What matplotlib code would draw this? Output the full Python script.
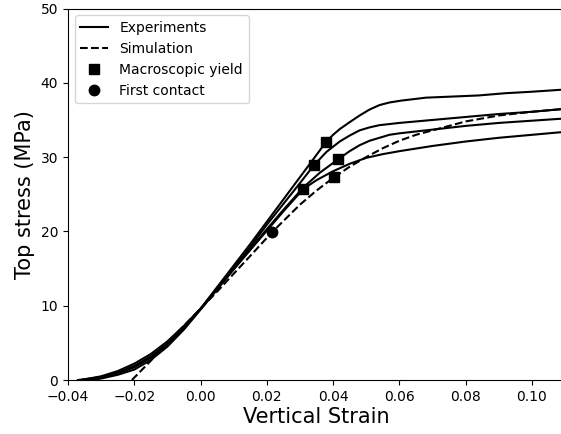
import numpy as np
import matplotlib
matplotlib.use("Agg")
import matplotlib.pyplot as plt

# =====================
# data
# =====================
exp1_x = [-0.037, -0.03, -0.025, -0.02, -0.015, -0.01, -0.005, 0.0, 0.005, 0.01, 0.015, 0.02,
          0.025, 0.03, 0.035, 0.0378, 0.04, 0.0421, 0.045, 0.048, 0.051, 0.054, 0.057, 0.0605,
          0.068, 0.076, 0.084, 0.092, 0.10, 0.11]
exp1_y = [0.0, 0.4, 1.0, 1.9, 3.2, 4.9, 7.1, 9.6, 12.5, 15.4, 18.3, 21.3,
          24.3, 27.3, 30.3, 32.0, 33.0, 33.8, 34.7, 35.6, 36.4, 37.0, 37.35, 37.6,
          38.0, 38.15, 38.3, 38.6, 38.8, 39.1]

exp2_x = [-0.036, -0.03, -0.025, -0.02, -0.015, -0.01, -0.005, 0.0, 0.005, 0.01, 0.015, 0.02,
          0.025, 0.03, 0.0342, 0.038, 0.042, 0.045, 0.048, 0.051, 0.054, 0.06, 0.07,
          0.08, 0.09, 0.10, 0.11]
exp2_y = [0.0, 0.5, 1.2, 2.2, 3.5, 5.2, 7.3, 9.6, 12.3, 15.1, 17.9, 20.9,
          23.7, 26.5, 28.9, 30.7, 32.1, 32.9, 33.6, 34.0, 34.3, 34.6, 35.0,
          35.4, 35.8, 36.1, 36.5]

exp3_x = [-0.034, -0.03, -0.025, -0.02, -0.015, -0.01, -0.005, 0.0, 0.005, 0.01, 0.015, 0.02,
          0.025, 0.031, 0.036, 0.0415, 0.045, 0.048, 0.051, 0.054, 0.057, 0.06, 0.07,
          0.08, 0.09, 0.10, 0.11]
exp3_y = [0.0, 0.3, 0.9, 1.7, 3.0, 4.7, 6.9, 9.5, 12.2, 14.9, 17.6, 20.3,
          22.9, 25.9, 27.9, 29.7, 30.8, 31.6, 32.2, 32.6, 33.0, 33.2, 33.7,
          34.2, 34.6, 34.9, 35.2]

exp4_x = [-0.033, -0.03, -0.025, -0.02, -0.015, -0.01, -0.005, 0.0, 0.005, 0.01, 0.015, 0.02,
          0.025, 0.031, 0.035, 0.04, 0.045, 0.05, 0.055, 0.06, 0.07, 0.08, 0.09,
          0.10, 0.11]
exp4_y = [0.0, 0.2, 0.7, 1.4, 2.7, 4.5, 6.8, 9.5, 12.2, 14.9, 17.5, 20.1,
          22.7, 25.7, 26.9, 28.1, 29.1, 29.9, 30.4, 30.8, 31.5, 32.1, 32.6,
          33.0, 33.4]

sim_x = [-0.0207, -0.015, -0.01, -0.005, 0.0, 0.005, 0.01, 0.015, 0.0216, 0.025, 0.03,
         0.035, 0.0403, 0.045, 0.05, 0.055, 0.06, 0.065, 0.07, 0.08, 0.09, 0.10, 0.11]
sim_y = [0.0, 2.6, 5.0, 7.3, 9.6, 11.9, 14.3, 16.7, 19.9, 21.4, 23.6,
         25.5, 27.3, 28.7, 30.0, 31.2, 32.2, 33.0, 33.6, 34.8, 35.6, 36.1, 36.5]

yield_x = [0.0378, 0.0342, 0.0415, 0.031, 0.0403]
yield_y = [32.0, 28.9, 29.7, 25.7, 27.3]

contact_x = [0.0216]
contact_y = [19.9]

# =====================
# plot
# =====================
fig = plt.figure(figsize=(5.61, 4.34), dpi=100)
ax = fig.add_axes([0.1212, 0.1244, 0.886, 0.856])

lw = 1.5
ax.plot(exp1_x, exp1_y, color="black", lw=lw, label="Experiments")
ax.plot(exp2_x, exp2_y, color="black", lw=lw)
ax.plot(exp3_x, exp3_y, color="black", lw=lw)
ax.plot(exp4_x, exp4_y, color="black", lw=lw)
ax.plot(sim_x, sim_y, color="black", lw=lw, ls="--", label="Simulation")
ax.plot(yield_x, yield_y, "s", color="black", ms=7.5, ls="none", label="Macroscopic yield")
ax.plot(contact_x, contact_y, "o", color="black", ms=7.5, ls="none", label="First contact")

ax.set_xlim(-0.04, 0.11)
ax.set_ylim(0, 50)
ax.set_xticks([-0.04, -0.02, 0.0, 0.02, 0.04, 0.06, 0.08, 0.10])
ax.set_yticks([0, 10, 20, 30, 40, 50])
ax.tick_params(labelsize=10)
ax.spines["right"].set_visible(False)

ax.set_xlabel("Vertical Strain", fontsize=15, labelpad=2)
ax.set_ylabel("Top stress (MPa)", fontsize=15)

ax.legend(loc="upper left", fontsize=10, handlelength=2.0)

fig.savefig("out.png", dpi=100)
